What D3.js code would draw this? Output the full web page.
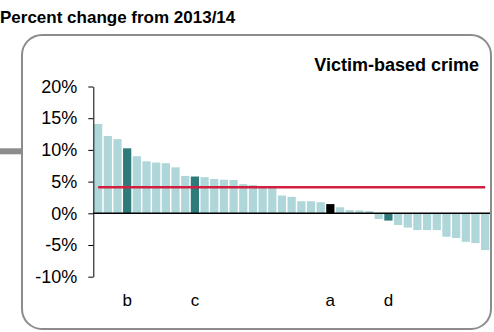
<!DOCTYPE html>
<html>
<head>
<meta charset="utf-8">
<script src="https://cdn.jsdelivr.net/npm/d3@7"></script>
<style>
  body { margin: 0; background: #fff; }
  svg { display: block; font-family: "Liberation Sans", Arial, sans-serif; }
</style>
</head>
<body>
<div id="chart"></div>
<script>
// Percent change per area, sorted, with a few labelled ones
const labels = ["", "", "", "b", "", "", "", "", "", "", "c", "", "", "", "", "", "", "", "", "", "",
                "", "", "", "a", "", "", "", "", "", "d", "", "", "", "", "", "", "", "", "", ""];
const values = [14.1, 12.2, 11.7, 10.25, 9.0, 8.2, 8.0, 7.9, 7.25, 5.9, 5.8, 5.7, 5.4, 5.3, 5.25,
                4.6, 4.45, 4.2, 4.0, 2.8, 2.6, 1.9, 1.9, 1.75, 1.45, 0.95, 0.5, 0.45, 0.35,
                -0.9, -1.15, -1.85, -2.25, -2.65, -2.65, -2.65, -3.7, -3.9, -4.5, -4.7, -5.8];
const highlight = { b: "dark", c: "dark", d: "dark", a: "black" };
const average = 4.1;
const yTicks = [-10, -5, 0, 5, 10, 15, 20];

const width = 494, height = 332;
const plotLeft = 93.3, plotRight = 490, plotTop = 86.5, plotBottom = 276.7;

const svg = d3.select("#chart").append("svg")
    .attr("width", width)
    .attr("height", height);

// frame and the little grey connector on the left
svg.append("rect")
    .attr("x", 0).attr("y", 148.3)
    .attr("width", 22).attr("height", 6)
    .attr("fill", "#8c8c8c");

svg.append("rect")
    .attr("x", 22).attr("y", 35)
    .attr("width", 469).attr("height", 294)
    .attr("rx", 20).attr("ry", 20)
    .attr("fill", "#fff")
    .attr("stroke", "#8c8c8c")
    .attr("stroke-width", 2);

svg.append("text")
    .attr("x", 0).attr("y", 23)
    .attr("font-size", 17).attr("font-weight", "bold")
    .text("Percent change from 2013/14");

svg.append("text")
    .attr("x", 479).attr("y", 71)
    .attr("text-anchor", "end")
    .attr("font-size", 18).attr("font-weight", "bold")
    .text("Victim-based crime");

const ids = values.map((d, i) => i);

const x = d3.scaleBand()
    .domain(ids)
    .range([plotLeft, plotRight])
    .paddingInner(0.15)
    .paddingOuter(0.075);

const y = d3.scaleLinear()
    .domain([-10, 20])
    .range([plotBottom, plotTop]);

// bars
svg.append("g").selectAll("rect")
    .data(values)
    .enter()
    .append("rect")
    .attr("x", (d, i) => x(i))
    .attr("width", x.bandwidth())
    .attr("y", d => y(Math.max(0, d)))
    .attr("height", d => Math.abs(y(d) - y(0)))
    .attr("fill", (d, i) => {
        const h = highlight[labels[i]];
        if (h === "dark") return "#2f7a7a";
        if (h === "black") return "#000";
        return "#afd6d9";
    });

// y axis
const yAxis = svg.append("g")
    .attr("transform", `translate(${plotLeft},0)`)
    .call(d3.axisLeft(y)
        .tickValues(yTicks)
        .tickFormat(d => d + "%")
        .tickSize(5)
        .tickSizeOuter(0)
        .tickPadding(11));
yAxis.selectAll("text")
    .attr("font-size", 18)
    .attr("font-family", "'Liberation Sans', Arial, sans-serif")
    .attr("fill", "#000");
yAxis.selectAll("line,path").attr("stroke", "#000");

// zero line
svg.append("line")
    .attr("x1", plotLeft).attr("x2", plotRight)
    .attr("y1", y(0)).attr("y2", y(0))
    .attr("stroke", "#000")
    .attr("stroke-width", 1.5);

// average line, centre of first bar to centre of last bar
svg.append("line")
    .attr("x1", x(0) + x.bandwidth() / 2)
    .attr("x2", x(values.length - 1) + x.bandwidth() / 2)
    .attr("y1", y(average)).attr("y2", y(average))
    .attr("stroke", "#d1203f")
    .attr("stroke-width", 2.5);

// category labels
svg.append("g").selectAll("text")
    .data(labels.map((l, i) => ({ l, i })).filter(d => d.l))
    .enter()
    .append("text")
    .attr("x", d => x(d.i) + x.bandwidth() / 2)
    .attr("y", 306)
    .attr("text-anchor", "middle")
    .attr("font-size", 17)
    .text(d => d.l);
</script>
</body>
</html>
